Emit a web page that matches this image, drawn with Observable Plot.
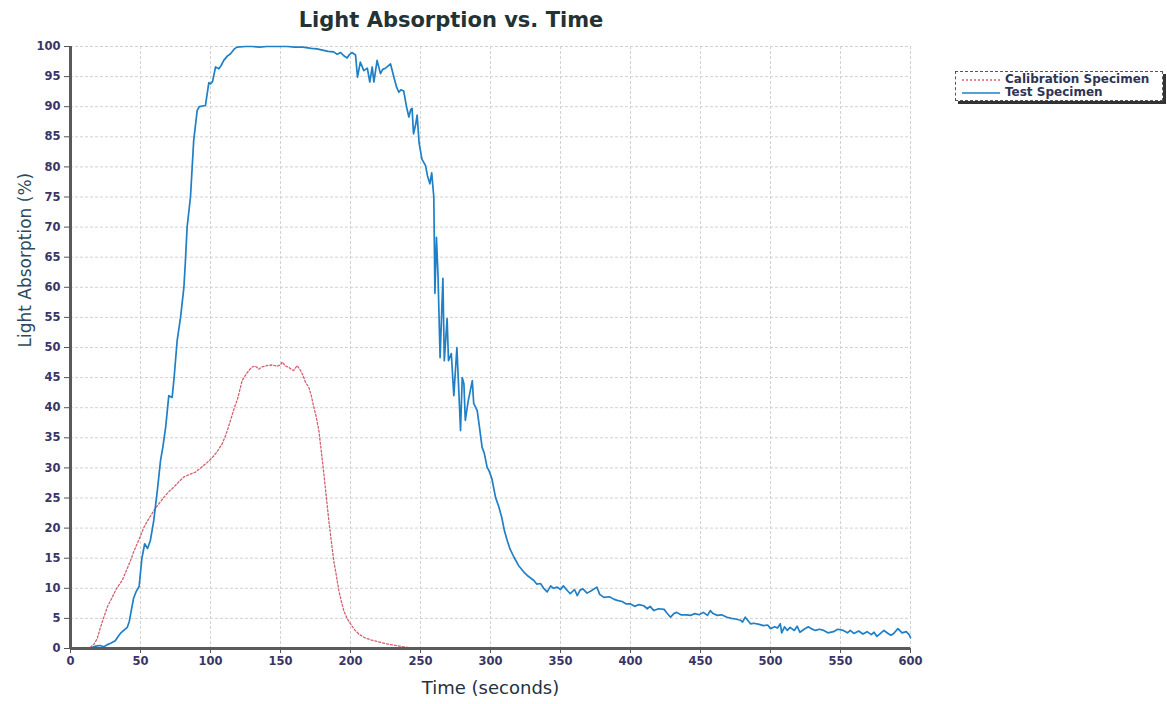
<!DOCTYPE html>
<html>
<head>
<meta charset="utf-8">
<script src="https://cdn.jsdelivr.net/npm/d3@7"></script>
<script src="https://cdn.jsdelivr.net/npm/@observablehq/plot@0.6"></script>
<style>
  html, body { margin: 0; padding: 0; background: #fff; }
  #wrap { position: relative; width: 1167px; height: 704px; font-family: "DejaVu Sans", Verdana, sans-serif; }
  #title { height: 36px; width: 902px; text-align: center; font-size: 21px; font-weight: bold; color: #243234; line-height: 40px; }
  #legend { position: absolute; left: 955px; top: 71px; width: 206px; height: 28px; border: 1px dashed #555; background: #fff; box-shadow: 3px 3px 0 #333; }
  .item { position: absolute; left: 0; height: 13px; font-size: 12px; font-weight: bold; color: #2f3555; white-space: nowrap; }
  .item svg { position: absolute; left: 6px; top: 2px; }
  .item span { position: absolute; left: 49px; top: -2px; }
  #chart svg g[aria-label="x-axis tick label"] text, #chart svg g[aria-label="y-axis tick label"] text { font-weight: bold; }
</style>
</head>
<body>
<div id="wrap">
  <div id="title">Light Absorption vs. Time</div>
  <div id="chart"></div>
  <div id="legend">
    <div class="item" style="top:2px"><svg width="40" height="8"><line x1="0" y1="4" x2="38" y2="4" stroke="#d4606e" stroke-width="1.3" stroke-dasharray="2,2"/></svg><span>Calibration Specimen</span></div>
    <div class="item" style="top:15px"><svg width="40" height="8"><line x1="0" y1="4" x2="38" y2="4" stroke="#1f7fc7" stroke-width="1.6"/></svg><span>Test Specimen</span></div>
  </div>
</div>
<script>
// ---- Data ----
const testTime = [0,10,15,18,21,24,26,29,32,34,36,38,40.5,42,43,45,47,49,51,53,55,57,59.5,62,64.3,66,68,70.2,72.6,74,76.2,78.6,81,82,83.3,85.7,88,90.5,92,96.4,98.8,100,101.5,103.6,106,107.5,109.5,112,114.3,117,119,125,130,135,140,145,150,155,160,166,172,176,180,184,188,190.5,193,195,197.6,199,201,203.6,205,207,209.5,212,213.8,215.5,216.7,219,221.4,223,225,228.6,231,233,234.5,236,238,240,241.7,243,244,245,246.5,247.6,249,251,253.6,255,256.7,258,259.5,260.3,261.4,262.5,264,266,267,269,270,272,273.8,276,278.6,279.8,281,282,284,287,288,290.5,292,294,295.5,297.6,299,301,303.6,306,308,310,312,314,316.7,320,323.8,327,331,333,335.7,338,340.5,343,345,347.6,350,352,355,357,360,362,364,366,369,372,376,378,381,385,388,390.5,394,397,400,403,406,409.5,412,414,416.7,420,424,426,428.6,431,433,436,440,443,446,449,452,455,457,459,462,465,469,472,475,478.6,480,482,485.7,488,492,495,498,500,503,505,507,508,510,512,514,517,519,521,524,527,529,532,535,538,541,545,548,552,555,557,559.5,563,566,569,572,574,576,578,581,584,586,588,591,594,597,599,600];
const testValue = [0,0,0.1,0.4,0.5,0.3,0.6,0.9,1.3,2.0,2.6,3.0,3.5,4.5,5.8,8.3,9.5,10.3,15.0,17.4,16.6,17.9,21.3,26.2,31.2,33.5,36.8,42,41.7,45,51.2,55,60,64,70,75,84.4,89.4,90,90.2,94,93.8,94.2,96.6,96.3,96.8,97.7,98.4,98.8,99.6,99.9,100,100,99.9,100,100,100,100,99.9,99.9,99.7,99.6,99.4,99.2,99.1,98.7,99.0,98.5,98.1,98.6,99,98.6,94.9,97.4,96,96.4,94.1,96.6,94.1,97.7,95.5,96.2,96.4,97.1,94.9,93.2,92.4,92.8,92.6,90,88.3,89.5,89.7,85.5,87,88.6,84,81.3,80.2,78.5,77.2,79,75,59,68.3,62,48.3,61.5,47.8,54.8,47.8,49,42,50,36.2,45,44,37.9,41,44.5,40.7,39.5,37,33.4,32.5,30.1,29.5,28.2,25.1,23.5,21.8,19.5,17.9,16.5,15.2,13.8,12.7,12.0,11.3,10.7,10.8,10.0,9.4,10.4,10.0,10.2,9.8,10.4,9.6,9.1,9.8,8.8,9.7,9.9,9.2,9.6,10.2,9.0,8.5,8.6,8.2,8.0,7.8,7.4,7.4,7.0,7.3,7.1,6.6,7.0,6.3,6.6,6.5,5.9,5.2,5.8,6.0,5.6,5.6,5.5,5.8,5.6,6.0,5.5,6.3,5.8,5.5,5.6,5.2,5.0,4.9,4.7,4.4,5.2,4.1,4.2,4.0,3.8,3.9,3.3,3.6,3.4,4.1,2.6,3.6,3.0,3.5,3.0,3.7,2.7,3.2,3.6,3.3,3.0,3.2,3.0,2.6,2.8,3.2,3.0,2.6,3.0,2.5,2.9,2.4,2.8,2.3,2.7,2.0,2.4,3.0,2.5,2.2,2.5,3.3,2.6,2.8,2.3,1.8];

const calTime = [0,10,14.3,17,19,21,23.8,26.5,29.8,33,36.9,40,42.9,45,47.6,50,52.4,55,59.5,63,66.7,70,73.8,77,81,85,89.3,93,97.6,100,102.4,105,108.3,111,114.3,117,119,121,122.6,125,127.4,130,132,134.5,137,140.5,144,147.6,150,151.2,153.6,156,158,159.5,161.9,164.3,166,167.9,170.2,172,173.8,175.5,177.4,179,181,182.8,184.5,186.2,188,190,191.7,193.5,195.2,197.5,200,203,206,210,215,220,225,230,235,240,245,250,255,258];
const calValue = [0,0,0.2,0.8,1.6,3.2,5.2,7,8.5,10,11.3,13,14.6,16,17.4,18.7,20.1,21.2,22.9,24,25.1,26,26.8,27.6,28.5,28.9,29.3,30.0,30.9,31.4,32,32.8,34,35.5,37.9,40,41.2,43,44.5,45.4,46.2,46.8,46.9,46.4,46.8,47,47.1,46.9,47.1,47.6,46.9,46.7,46.3,46.2,47,46.2,45.4,44.2,43.4,42,40.1,38.5,36.2,33,29,25,21.3,18,14.6,12,9.6,7.8,6.3,5.0,4.1,3.1,2.4,1.8,1.4,1.1,0.8,0.6,0.4,0.2,0.1,0.05,0,0];

const xTicks = d3.range(0, 601, 50);
const yTicks = d3.range(0, 101, 5);

const testData = testTime.map((t, i) => ({t, v: testValue[i]}));
const calData = calTime.map((t, i) => ({t, v: calValue[i]}));

const chart = Plot.plot({
  width: 1167,
  height: 668,
  marginLeft: 70,
  marginRight: 257,
  marginTop: 10,
  marginBottom: 56,
  style: { fontFamily: "DejaVu Sans, Verdana, sans-serif", fontSize: "11.5px", color: "#3a3566", background: "#fff" },
  x: { domain: [0, 600] },
  y: { domain: [0, 100] },
  marks: [
    Plot.gridX(xTicks, { stroke: "#d2d2d2", strokeOpacity: 1, strokeDasharray: "3,2" }),
    Plot.gridY(yTicks, { stroke: "#d2d2d2", strokeOpacity: 1, strokeDasharray: "3,2" }),
    Plot.line(calData, { x: "t", y: "v", stroke: "#d4606e", strokeWidth: 1.3, strokeDasharray: "2,2" }),
    Plot.line(testData, { x: "t", y: "v", stroke: "#1f7fc7", strokeWidth: 1.7 }),
    Plot.axisX(xTicks, { tickSize: 5, tickPadding: 3, label: null, stroke: "#555", fill: "#3a3566" }),
    Plot.axisY(yTicks, { tickSize: 6, tickPadding: 4, label: null, stroke: "#555", fill: "#3a3566" }),
    Plot.ruleX([0], { stroke: "#5a5a5a", strokeWidth: 3 }),
    Plot.ruleY([0], { stroke: "#5a5a5a", strokeWidth: 3 }),
    Plot.text(["Time (seconds)"], { frameAnchor: "bottom", lineAnchor: "middle", dy: 40, fontSize: 18, fill: "#23323f" }),
    Plot.text(["Light Absorption (%)"], { frameAnchor: "left", rotate: -90, dx: -45, fontSize: 17, fill: "#2c4a5c" })
  ]
});
document.getElementById("chart").appendChild(chart);
</script>
</body>
</html>
